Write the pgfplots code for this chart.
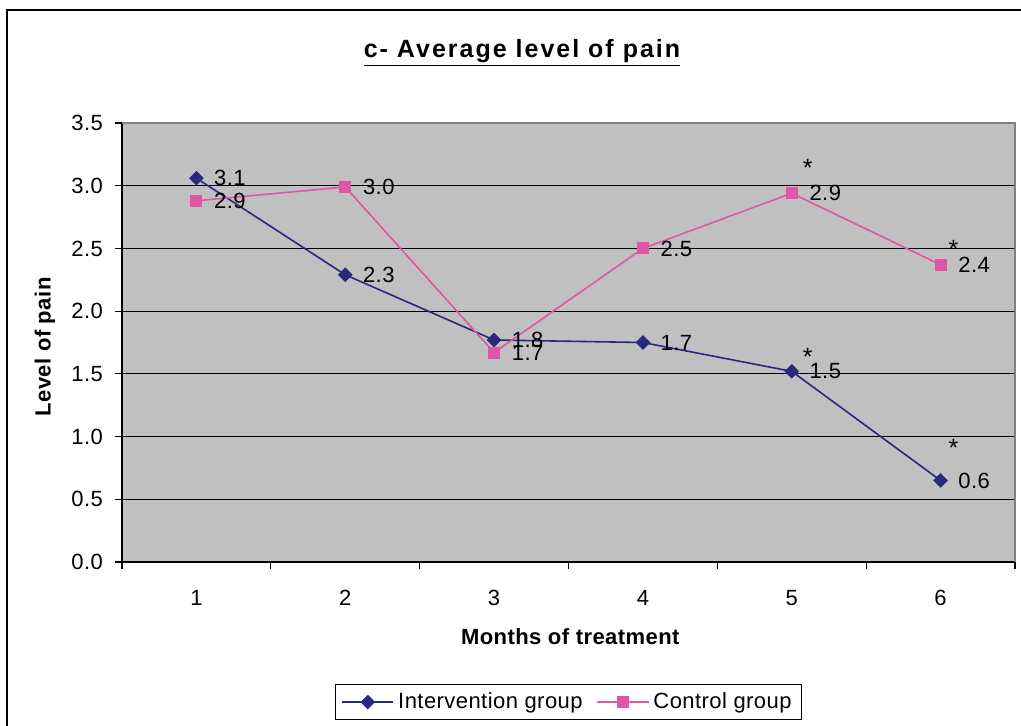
\documentclass[border=0pt]{standalone}
\usepackage{fontspec}
\setmainfont{Liberation Sans}[LetterSpace=2]
\usepackage{pgfplots}
\pgfplotsset{compat=1.18}
\definecolor{navyline}{RGB}{40,40,125}
\definecolor{pinkline}{RGB}{224,86,166}
\definecolor{plotbg}{HTML}{C0C0C0}
\newcommand{\fs}{\fontsize{11}{13}\selectfont}
\begin{document}
\begin{tikzpicture}
\useasboundingbox (0,0) rectangle (510.5pt,362.5pt);
\draw[line width=1pt] (3.5pt,-1pt) -- (3.5pt,357.5pt) -- (512pt,357.5pt);
\node[font=\bfseries\fontsize{12.5}{15}\selectfont\addfontfeatures{LetterSpace=8}] at (261pt,336pt) {\underline{c- Average level of pain}};
\begin{axis}[
  at={(61pt,81.5pt)}, anchor=south west,
  scale only axis, width=446.5pt, height=219.5pt,
  xmin=0.5, xmax=6.5, ymin=0, ymax=3.5,
  axis background/.style={fill=plotbg},
  axis x line*=bottom, axis y line*=left,
  axis line style={black, line width=0.6pt},
  xtick={1,2,3,4,5,6},
  minor xtick={0.5,1.5,2.5,3.5,4.5,5.5,6.5},
  major x tick style={draw=none},
  minor x tick style={black, line width=0.6pt},
  minor tick length=3.5pt,
  ytick={0,0.5,1,1.5,2,2.5,3,3.5},
  major tick length=3.5pt,
  tick align=outside,
  y tick style={black, line width=0.6pt},
  ymajorgrids, grid style={black, line width=0.5pt},
  yticklabel style={xshift=-2.5pt, /pgf/number format/.cd, fixed, fixed zerofill, precision=1, assume math mode=true},
  xticklabel style={yshift=-7pt, /pgf/number format/assume math mode=true},
  tick label style={font=\fs},
  xlabel={\bfseries Months of treatment},
  ylabel={\bfseries Level of pain},
  xlabel style={font=\fs, at={(axis description cs:0.502,-0.171)}, anchor=center},
  ylabel style={font=\fs, at={(axis description cs:-0.0862,0.49)}, anchor=center, rotate=0},
  legend columns=2,
  legend style={at={(0.5,-0.319)}, anchor=center, draw=black, line width=0.5pt, font=\fs,
    inner xsep=3pt, inner ysep=2pt,
    /tikz/every even column/.append style={column sep=5pt}},
  legend image code/.code={\draw[mark repeat=2,mark phase=2] plot coordinates {(0cm,0cm) (0.45cm,0cm) (0.9cm,0cm)};},
  clip=false,
]
\draw[gray, line width=0.6pt] (rel axis cs:0,1) -- (rel axis cs:1,1) -- (rel axis cs:1,0);
\addplot[navyline, line width=0.8pt, mark=square*, mark size=2.2pt, mark options={rotate=45, fill=navyline, draw=navyline},
  nodes near coords, point meta=explicit symbolic,
  nodes near coords style={anchor=west, xshift=8.5pt, inner sep=0pt, font=\fs, text=black}]
  table[meta=lab] {
x y lab
1 3.06 3.1
2 2.29 2.3
3 1.77 1.8
4 1.75 1.7
5 1.52 1.5
6 0.65 0.6
};
\addlegendentry{Intervention group}
\addplot[pinkline, line width=0.8pt, mark=square*, mark size=2.6pt, mark options={fill=pinkline, draw=pinkline},
  nodes near coords, point meta=explicit symbolic,
  nodes near coords style={anchor=west, xshift=8.5pt, inner sep=0pt, font=\fs, text=black}]
  table[meta=lab] {
x y lab
1 2.88 2.9
2 2.99 3.0
3 1.67 1.7
4 2.50 2.5
5 2.94 2.9
6 2.37 2.4
};
\addlegendentry{Control group}
\addplot[draw=none, forget plot, nodes near coords={*},
  visualization depends on={value \thisrow{dx} \as \dx},
  visualization depends on={value \thisrow{dy} \as \dy},
  nodes near coords style={anchor=center, xshift=\dx pt, yshift=\dy pt, inner sep=0pt, font=\fontsize{12.5}{14}\selectfont, text=black}]
  table {
x y dx dy
5 1.52 8 7
6 0.65 6.5 16.5
5 2.94 8 12.5
6 2.37 6.5 8
};
\end{axis}
\end{tikzpicture}
\end{document}
